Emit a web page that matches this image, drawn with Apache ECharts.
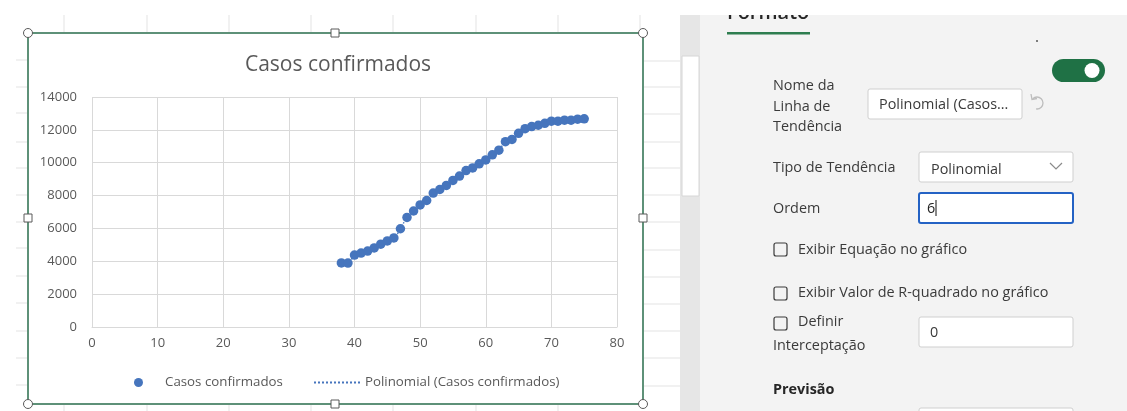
<!DOCTYPE html>
<html>
<head>
<meta charset="utf-8">
<title>Casos confirmados</title>
<script src="https://cdn.jsdelivr.net/npm/echarts@6/dist/echarts.min.js"></script>
<style>
  html, body { margin: 0; padding: 0; background: #ffffff; }
  #main { width: 1127px; height: 411px; }
</style>
</head>
<body>
<div id="main"></div>
<script>
// Day number (x) and cumulative confirmed cases (y)
const days = [38, 39, 40, 41, 42, 43, 44, 45, 46, 47, 48, 49, 50, 51, 52, 53, 54, 55, 56,
              57, 58, 59, 60, 61, 62, 63, 64, 65, 66, 67, 68, 69, 70, 71, 72, 73, 74, 75];
const confirmed = [3900, 3890, 4380, 4500, 4620, 4810, 5040, 5240, 5420, 5980, 6670, 7060, 7430,
                   7700, 8150, 8370, 8620, 8920, 9190, 9520, 9680, 9930, 10170, 10480, 10760,
                   11280, 11420, 11790, 12070, 12200, 12280, 12400, 12530, 12530, 12590, 12590,
                   12650, 12670];

// Axis ranges
const xRange = { min: 0, max: 80, step: 10 };
const yRange = { min: 0, max: 14000, step: 2000 };

const seriesName = 'Casos confirmados';
const trendName = 'Polinomial (Casos confirmados)';
const chartTitle = 'Casos confirmados';

// Format pane texts
const paneTitle = 'Formato';
const trendNameLabel = ['Nome da', 'Linha de', 'Tendência'];
const trendNameValue = 'Polinomial (Casos...';
const typeLabel = 'Tipo de Tendência';
const typeValue = 'Polinomial';
const orderLabel = 'Ordem';
const orderValue = '6';
const showEquation = 'Exibir Equação no gráfico';
const showR2 = 'Exibir Valor de R-quadrado no gráfico';
const setIntercept = ['Definir', 'Interceptação'];
const interceptValue = '0';
const forecastLabel = 'Previsão';

const points = days.map((d, i) => [d, confirmed[i]]);

const FONT = '"Open Sans", "Noto Sans", sans-serif';
const GRID = '#d9d9d9';
const LABEL = '#595959';
const BLUE = '#4675bd';
const SHEET = '#e3e3e3';
const PANE_TEXT = '#3a3a3a';
const PANE_SIZE = 14.4;

// Dotted legend swatch for the trendline
let dottedIcon = 'path://';
for (let i = 0; i < 12; i++) dottedIcon += `M${i * 4},0h2v2h-2z`;

// Spreadsheet cell lines around the embedded chart
const colX = [64, 147, 229, 311, 393, 476, 558, 640];
const rowYLeft = [60, 87, 113, 142, 168, 195, 222, 248, 276, 303, 331, 358, 385];
const rowYRight = [61, 87, 114, 142, 168, 195, 222, 250, 277, 304, 331, 358, 386];

const g = [];
colX.forEach(x => {
  g.push({ type: 'line', shape: { x1: x, y1: 15, x2: x, y2: 33 }, style: { stroke: SHEET, lineWidth: 1 }, silent: true });
  if (x < 640) g.push({ type: 'line', shape: { x1: x, y1: 404, x2: x, y2: 411 }, style: { stroke: SHEET, lineWidth: 1 }, silent: true });
});
rowYLeft.forEach(y => g.push({ type: 'line', shape: { x1: 16, y1: y, x2: 28, y2: y }, style: { stroke: SHEET, lineWidth: 1 }, silent: true }));
rowYRight.forEach(y => g.push({ type: 'line', shape: { x1: 643, y1: y, x2: 680, y2: y }, style: { stroke: SHEET, lineWidth: 1 }, silent: true }));

// Selected chart frame with handles
g.push({ type: 'rect', shape: { x: 28, y: 33, width: 615, height: 371 }, style: { fill: 'none', stroke: '#5e9178', lineWidth: 2 }, silent: true });
[[28, 33], [643, 33], [28, 404], [643, 404]].forEach(([x, y]) =>
  g.push({ type: 'circle', shape: { cx: x, cy: y, r: 4.5 }, style: { fill: '#ffffff', stroke: '#5a5a5a', lineWidth: 1 }, z: 5, silent: true }));
[[335, 33], [335, 404], [28, 218], [643, 218]].forEach(([x, y]) =>
  g.push({ type: 'rect', shape: { x: x - 4, y: y - 4, width: 8, height: 8 }, style: { fill: '#ffffff', stroke: '#5a5a5a', lineWidth: 1 }, z: 5, silent: true }));

// Scroll strip and pane background
g.push({ type: 'rect', shape: { x: 680, y: 15, width: 447, height: 396 }, style: { fill: '#f3f3f3' }, silent: true });
g.push({ type: 'rect', shape: { x: 680, y: 15, width: 20, height: 396 }, style: { fill: '#e6e6e6' }, silent: true });
g.push({ type: 'rect', shape: { x: 682, y: 56, width: 17, height: 140 }, style: { fill: '#ffffff', stroke: '#d6d6d6', lineWidth: 1 }, silent: true });

function txt(text, x, y, opts) {
  return {
    type: 'text', silent: true, z: 10,
    style: Object.assign({ text, x, y, fill: PANE_TEXT, fontSize: PANE_SIZE, fontFamily: FONT, verticalAlign: 'middle' }, opts || {})
  };
}
function box(x, y, w, h, stroke, lw) {
  return { type: 'rect', z: 10, silent: true, shape: { x, y, width: w, height: h, r: 2 },
           style: { fill: '#ffffff', stroke: stroke || '#cfcfcf', lineWidth: lw || 1 } };
}
function check(x, y) {
  return { type: 'rect', z: 10, silent: true, shape: { x, y, width: 13, height: 13, r: 2 },
           style: { fill: 'none', stroke: '#3a3a3a', lineWidth: 1.2 } };
}

// Pane header (upper part scrolled out of view)
g.push(txt(paneTitle, 727, 13, { fontSize: 20, fontWeight: 600, fill: '#262626' }));
g.push({ type: 'rect', z: 10, silent: true, shape: { x: 727, y: 32, width: 83, height: 2.5 }, style: { fill: '#2e7d4f' } });
g.push({ type: 'circle', z: 10, silent: true, shape: { cx: 1037, cy: 41, r: 1 }, style: { fill: '#555' } });

// Toggle switch
g.push({ type: 'rect', z: 10, silent: true, shape: { x: 1052, y: 59, width: 53, height: 23, r: 11.5 }, style: { fill: '#1f7145' } });
g.push({ type: 'circle', z: 11, silent: true, shape: { cx: 1092, cy: 70.5, r: 7.5 }, style: { fill: '#ffffff' } });

// Trendline name
trendNameLabel.forEach((t, i) => g.push(txt(t, 773, 86 + i * 20.5)));
g.push(box(868, 89, 154, 30));
g.push(txt(trendNameValue, 879, 104.5));
// reset (undo) icon
g.push({ type: 'arc', z: 10, silent: true,
  shape: { cx: 1037, cy: 103, r: 6, startAngle: -Math.PI * 0.75, endAngle: Math.PI * 0.55, clockwise: true },
  style: { fill: 'none', stroke: '#bdbdbd', lineWidth: 1.3 } });
g.push({ type: 'polyline', z: 10, silent: true, shape: { points: [[1031, 94], [1032, 99.5], [1037, 98.5]] },
  style: { fill: 'none', stroke: '#bdbdbd', lineWidth: 1.3 } });

// Trend type
g.push(txt(typeLabel, 773, 168));
g.push(box(919, 152, 154, 30));
g.push(txt(typeValue, 931, 169.5));
g.push({ type: 'polyline', z: 10, silent: true, shape: { points: [[1050, 163], [1056, 169], [1062, 163]] },
  style: { fill: 'none', stroke: '#8a8a8a', lineWidth: 1.2 } });

// Order
g.push(txt(orderLabel, 773, 209));
g.push(box(919, 193, 154, 30, '#2462c4', 2));
g.push(txt(orderValue, 927, 208.5, { fill: '#222' }));
g.push({ type: 'line', z: 11, silent: true, shape: { x1: 936, y1: 200, x2: 936, y2: 216 }, style: { stroke: '#111', lineWidth: 1 } });

// Check boxes
g.push(check(774, 243));
g.push(txt(showEquation, 798, 250));
g.push(check(774, 287));
g.push(txt(showR2, 798, 293));
g.push(check(774, 317));
g.push(txt(setIntercept[0], 798, 322));
g.push(txt(setIntercept[1], 773, 346));
g.push(box(919, 317, 154, 30));
g.push(txt(interceptValue, 930, 333));

// Forecast section
g.push(txt(forecastLabel, 773, 390, { fontWeight: 'bold', fill: '#262626' }));
g.push(box(919, 408, 154, 30));

// Top band above the sheet
g.push({ type: 'rect', z: 50, silent: true, shape: { x: 0, y: 0, width: 1127, height: 15 }, style: { fill: '#ffffff' } });

const chart = echarts.init(document.getElementById('main'), null, { renderer: 'canvas' });
chart.setOption({
  backgroundColor: '#ffffff',
  animation: false,
  textStyle: { fontFamily: FONT },
  title: {
    text: chartTitle,
    left: 333, top: 50, textAlign: 'center',
    textStyle: { color: LABEL, fontSize: 21, fontWeight: 'normal', fontFamily: FONT }
  },
  legend: [
    {
      data: [{ name: seriesName, icon: 'circle' }],
      left: 129, top: 371, itemWidth: 9, itemHeight: 9, itemGap: 0,
      textStyle: { color: LABEL, fontSize: 13.3, fontFamily: FONT, padding: [0, 0, 0, 17] },
      selectedMode: false
    },
    {
      data: [{ name: trendName, icon: dottedIcon }],
      left: 309, top: 371, itemWidth: 46, itemHeight: 2,
      textStyle: { color: LABEL, fontSize: 13.3, fontFamily: FONT },
      selectedMode: false
    }
  ],
  grid: { left: 92, right: 510, top: 97, bottom: 84, containLabel: false },
  xAxis: {
    type: 'value', min: xRange.min, max: xRange.max, interval: xRange.step,
    axisLine: { show: true, lineStyle: { color: GRID, width: 1 } },
    axisTick: { show: false },
    splitLine: { show: true, lineStyle: { color: GRID, width: 1 } },
    axisLabel: { color: LABEL, fontSize: 13, fontFamily: FONT, margin: 10 }
  },
  yAxis: {
    type: 'value', min: yRange.min, max: yRange.max, interval: yRange.step,
    axisLine: { show: false },
    axisTick: { show: false },
    splitLine: { show: true, lineStyle: { color: GRID, width: 1 } },
    axisLabel: { color: LABEL, fontSize: 13, fontFamily: FONT, margin: 15, formatter: v => String(v) }
  },
  series: [
    {
      name: trendName, type: 'line', data: points, smooth: true,
      symbol: 'none', z: 2,
      itemStyle: { color: BLUE },
      lineStyle: { color: BLUE, width: 1.5, type: 'dotted' }
    },
    {
      name: seriesName, type: 'scatter', data: points,
      symbol: 'circle', symbolSize: 9.5, z: 3,
      itemStyle: { color: BLUE, opacity: 1 }
    }
  ],
  graphic: { elements: g }
});
</script>
</body>
</html>
